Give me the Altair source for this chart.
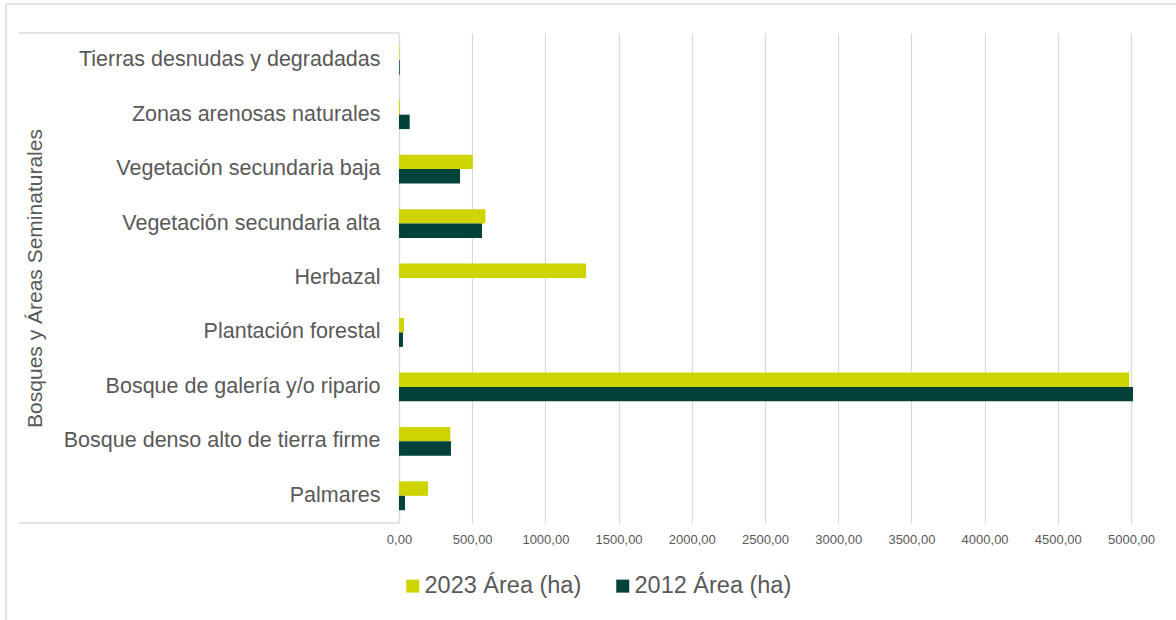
import altair as alt
import pandas as pd

categories = [
    "Tierras desnudas y degradadas",
    "Zonas arenosas naturales",
    "Vegetación secundaria baja",
    "Vegetación secundaria alta",
    "Herbazal",
    "Plantación forestal",
    "Bosque de galería y/o ripario",
    "Bosque denso alto de tierra firme",
    "Palmares",
]
area_2023 = [3, 7, 504, 590, 1278, 34, 4988, 351, 198]
area_2012 = [5, 73, 417, 567, 0, 27, 5014, 355, 41]
series = ["2023 Área (ha)", "2012 Área (ha)"]
colors = ["#CDD400", "#03423A"]
x_ticks = [0, 500, 1000, 1500, 2000, 2500, 3000, 3500, 4000, 4500, 5000]

rows = []
for c, a, b in zip(categories, area_2023, area_2012):
    rows.append({"cat": c, "serie": series[0], "val": a})
    rows.append({"cat": c, "serie": series[1], "val": b})
df = pd.DataFrame(rows)

W, H = 732, 490
FONT = "Liberation Sans"
TXT = "#595959"
LINE = "#D9D9D9"

bars = alt.Chart(df).mark_bar(clip=False).encode(
    x=alt.X(
        "val:Q",
        scale=alt.Scale(domain=[0, 5000], nice=False, zero=True),
        axis=alt.Axis(
            values=x_ticks,
            title=None,
            domain=False,
            ticks=False,
            grid=True,
            gridColor=LINE,
            gridWidth=1.2,
            labelExpr="replace(format(datum.value, '.2f'), '.', ',')",
            labelFont=FONT,
            labelFontSize=13,
            labelColor=TXT,
            labelPadding=10,
            labelFlush=False,
            labelOverlap=False,
        ),
    ),
    y=alt.Y(
        "cat:N",
        sort=categories,
        scale=alt.Scale(paddingInner=0.47, paddingOuter=0.235),
        axis=alt.Axis(
            title="Bosques y Áreas Seminaturales",
            titleFont=FONT,
            titleFontSize=21,
            titleFontWeight="normal",
            titleColor=TXT,
            titleAngle=270,
            titleX=-364,
            titleY=245,
            titleAlign="center",
            titleBaseline="middle",
            domain=True,
            domainColor=LINE,
            domainWidth=1.2,
            ticks=False,
            labelFont=FONT,
            labelFontSize=21.5,
            labelColor=TXT,
            labelPadding=19,
            labelLimit=400,
        ),
    ),
    yOffset=alt.YOffset("serie:N", sort=series),
    color=alt.Color(
        "serie:N",
        scale=alt.Scale(domain=series, range=colors),
        legend=alt.Legend(
            title=None,
            orient="none",
            direction="horizontal",
            legendX=2,
            legendY=541,
            symbolType="square",
            symbolSize=169,
            symbolStrokeWidth=0,
            labelFont=FONT,
            labelFontSize=23.5,
            labelColor=TXT,
            labelOffset=0,
            columnPadding=29,
        ),
    ),
)

deco = pd.DataFrame({"k": [0]})
def rule(x, x2, y, y2):
    return alt.Chart(deco).mark_rule(color=LINE, strokeWidth=1.5).encode(
        x=alt.value(x), x2=alt.value(x2), y=alt.value(y), y2=alt.value(y2)
    )

lines = [
    rule(-380, 0, 0, 0),      # top bracket line
    rule(-380, 0, H, H),      # bottom bracket line
    rule(-393, -393, -29, 587),  # outer border left
    rule(-393, 777, -29, -29),   # outer border top
]

chart = alt.layer(bars, *lines).properties(
    width=W,
    height=H,
    autosize=alt.AutoSizeParams(type="none"),
    padding={"left": 399, "top": 33, "right": 45, "bottom": 97},
    background="white",
).configure_view(stroke=None)

chart.save("out.html", embed_options={"renderer": "svg", "actions": False})
